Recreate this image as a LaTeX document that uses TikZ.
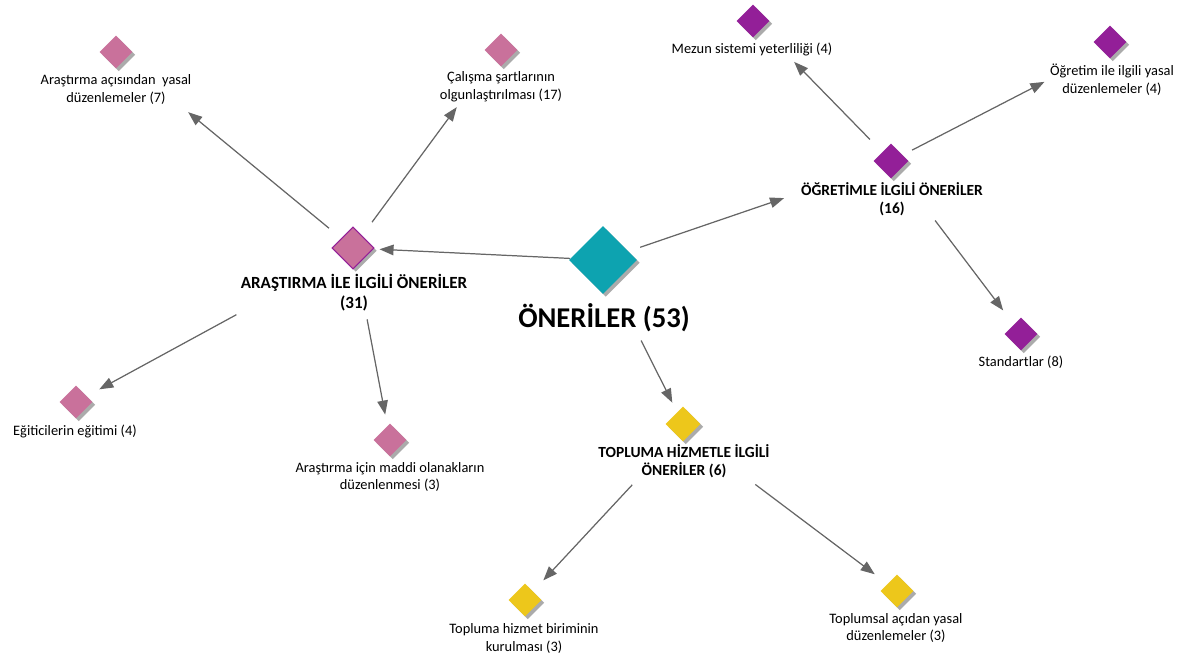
\documentclass[tikz,border=0pt]{standalone}
\usepackage{fontspec}
\setmainfont{Carlito}
\usetikzlibrary{shapes.geometric,shadows,arrows.meta,calc}
\definecolor{arspink}{HTML}{C9719B}
\definecolor{ogrpurple}{HTML}{931F98}
\definecolor{onrteal}{HTML}{0DA3B0}
\definecolor{topyellow}{HTML}{EDC71B}
\definecolor{linkgray}{HTML}{666666}
\begin{document}
\begin{tikzpicture}[
    x=0.02cm, y=-0.02cm,
    code/.style={diamond, inner sep=0pt, minimum size=0.66cm,
      general shadow={fill=black!33, shadow xshift=1.6pt, shadow yshift=-1.6pt}},
    pinkcode/.style={code, fill=arspink},
    purplecode/.style={code, fill=ogrpurple},
    yellowcode/.style={code, fill=topyellow},
    lbl/.style={align=center, inner sep=1pt, font=\fontsize{8.2}{10.2}\selectfont},
    grplbl/.style={lbl, font=\fontsize{8.8}{10.2}\selectfont\bfseries},
    link/.style={draw=linkgray, line width=0.7pt, -{Triangle[length=8pt, width=6pt]}, fill=linkgray}
  ]
  \useasboundingbox (0,0) rectangle (1184,659);

  % Central code
  \node[code, fill=onrteal, minimum size=1.36cm] (onr) at (603,260) {};
  \node[lbl, font=\fontsize{16.3}{18}\selectfont\bfseries] (onrl) at (604,318) {ÖNERİLER (53)};

  % Research branch
  \node[pinkcode, draw=ogrpurple, line width=0.6pt, minimum size=0.84cm] (ars) at (353,248) {};
  \node[grplbl, font=\fontsize{9.7}{11.3}\selectfont\bfseries] (arsl) at (354,293) {ARAŞTIRMA İLE İLGİLİ ÖNERİLER\\(31)};
  \node[pinkcode] (a1) at (116,52) {};
  \node[lbl] (a1l) at (116,89.5) {Araştırma açısından\ \ yasal\\düzenlemeler (7)};
  \node[pinkcode] (a2) at (501,50) {};
  \node[lbl] (a2l) at (501,87) {Çalışma şartlarının\\olgunlaştırılması (17)};
  \node[pinkcode] (a3) at (76,402) {};
  \node[lbl] (a3l) at (75,431) {Eğiticilerin eğitimi (4)};
  \node[pinkcode] (a4) at (390,440) {};
  \node[lbl] (a4l) at (390,477) {Araştırma için maddi olanakların\\düzenlenmesi (3)};

  % Teaching branch
  \node[purplecode, minimum size=0.7cm] (ogr) at (891,161) {};
  \node[grplbl] (ogrl) at (892,199) {ÖĞRETİMLE İLGİLİ ÖNERİLER\\(16)};
  \node[purplecode] (o1) at (753,21) {};
  \node[lbl] (o1l) at (752,49) {Mezun sistemi yeterliliği (4)};
  \node[purplecode] (o2) at (1110,42) {};
  \node[lbl] (o2l) at (1112,80) {Öğretim ile ilgili yasal\\düzenlemeler (4)};
  \node[purplecode] (o3) at (1021,334) {};
  \node[lbl] (o3l) at (1021,362) {Standartlar (8)};

  % Community service branch
  \node[yellowcode, minimum size=0.7cm] (top) at (683,424) {};
  \node[grplbl] (topl) at (684,461) {TOPLUMA HİZMETLE İLGİLİ\\ÖNERİLER (6)};
  \node[yellowcode] (t1) at (525,600) {};
  \node[lbl] (t1l) at (524,638.5) {Topluma hizmet biriminin\\kurulması (3)};
  \node[yellowcode] (t2) at (897,591) {};
  \node[lbl] (t2l) at (896,628) {Toplumsal açıdan yasal\\düzenlemeler (3)};

  % Links from the central code
  \draw[link, shorten >=3.4pt] (onr) -- (ars);
  \draw[link, shorten <=7pt, shorten >=9pt] (onr) -- ($(ogrl.west)+(0,-6)$);
  \draw[link, shorten <=4pt, shorten >=6pt] ($(onrl.south)+(34,0)$) -- (top);

  % Links of the research branch
  \draw[link, shorten <=9pt, shorten >=5pt] (ars) -- ($(a1l.south east)+(-12,0)$);
  \draw[link, shorten <=9.5pt, shorten >=2pt] (ars) -- ($(a2l.south west)+(21,0)$);
  \draw[link, shorten <=1.5pt, shorten >=8pt] (arsl.south west) -- (a3);
  \draw[link, shorten <=3.4pt, shorten >=6.5pt] ($(arsl.south)+(12,0)$) -- (a4);

  % Links of the teaching branch
  \draw[link, shorten <=10pt, shorten >=3.4pt] (ogr) -- ($(o1l.south)+(38,0)$);
  \draw[link, shorten <=6pt, shorten >=2.3pt] (ogr) -- (o2l.west);
  \draw[link, shorten <=2pt, shorten >=10pt] ($(ogrl.south)+(41,0)$) -- (o3);

  % Links of the community service branch
  \draw[link, shorten <=4pt, shorten >=8.5pt] ($(topl.south)+(-47,0)$) -- (t1);
  \draw[link, shorten <=4.5pt, shorten >=9pt] ($(topl.south)+(65,0)$) -- (t2);

\end{tikzpicture}
\end{document}
